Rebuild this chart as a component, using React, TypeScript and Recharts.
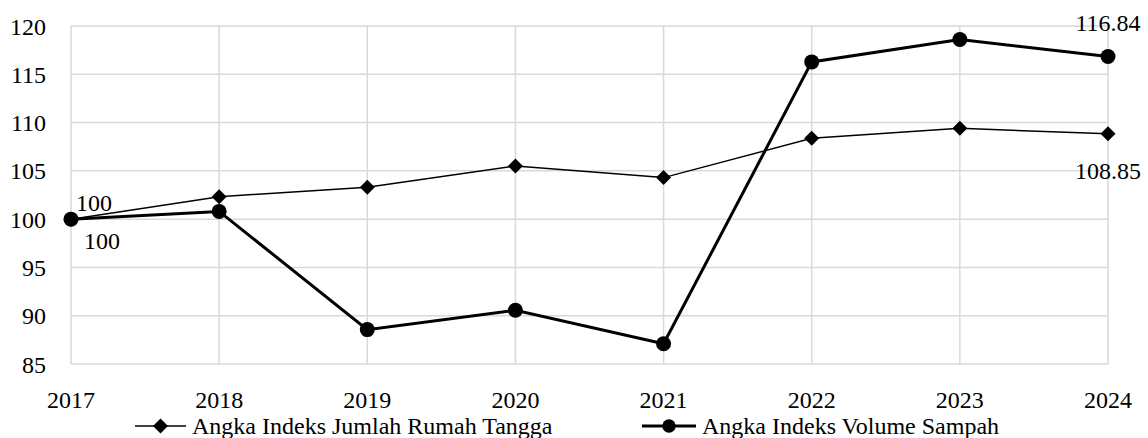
import { LineChart, Line, XAxis, YAxis, CartesianGrid, Legend } from "recharts";

const years = ["2017", "2018", "2019", "2020", "2021", "2022", "2023", "2024"];
const rumahTangga = [100, 102.33, 103.3, 105.5, 104.3, 108.37, 109.4, 108.85];
const volumeSampah = [100, 100.8, 88.56, 90.56, 87.09, 116.28, 118.6, 116.84];
const yTicks = [85, 90, 95, 100, 105, 110, 115, 120];

const data = years.map((year, i) => ({
  year,
  rumahTangga: rumahTangga[i],
  volumeSampah: volumeSampah[i],
}));

const FONT = "'Liberation Serif', 'Times New Roman', serif";
const FONT_SIZE = 24;

const Diamond = ({ cx, cy, size = 7.5 }: any) => {
  if (cx == null || cy == null) return null;
  return (
    <path
      d={`M${cx},${cy - size} L${cx + size},${cy} L${cx},${cy + size} L${cx - size},${cy} Z`}
      fill="#000"
    />
  );
};

const Dot = ({ cx, cy }: any) => {
  if (cx == null || cy == null) return null;
  return <circle cx={cx} cy={cy} r={7.5} fill="#000" />;
};

const labelText = (x: number, y: number, text: any, anchor: string) => (
  <text x={x} y={y} textAnchor={anchor} fontFamily={FONT} fontSize={FONT_SIZE} fill="#000">
    {text}
  </text>
);

// first point: right of marker, last point: above/below
const rumahLabel = (props: any) => {
  const { x, y, value, index } = props;
  if (index === 0) return labelText(x + 5, y - 8, value, "start");
  if (index === years.length - 1) return labelText(x, y + 45, value.toFixed(2), "middle");
  return null;
};

const sampahLabel = (props: any) => {
  const { x, y, value, index } = props;
  if (index === 0) return labelText(x + 13, y + 30, value, "start");
  if (index === years.length - 1) return labelText(x, y - 26, value.toFixed(2), "middle");
  return null;
};

const LegendContent = () => (
  <div style={{ position: "relative", height: 26, fontFamily: FONT, fontSize: FONT_SIZE }}>
    <div style={{ position: "absolute", left: 135, top: 0, display: "flex", alignItems: "center" }}>
      <svg width={51} height={26}>
        <line x1={0} y1={14} x2={51} y2={14} stroke="#000" strokeWidth={1.5} />
        <Diamond cx={25.5} cy={14} size={7.5} />
      </svg>
      <span style={{ marginLeft: 6, lineHeight: "26px", position: "relative", top: 1 }}>
        Angka Indeks Jumlah Rumah Tangga
      </span>
    </div>
    <div style={{ position: "absolute", left: 642, top: 0, display: "flex", alignItems: "center" }}>
      <svg width={54} height={26}>
        <line x1={0} y1={14} x2={54} y2={14} stroke="#000" strokeWidth={3} />
        <circle cx={27} cy={14} r={6.7} fill="#000" />
      </svg>
      <span style={{ marginLeft: 6, lineHeight: "26px", position: "relative", top: 1 }}>
        Angka Indeks Volume Sampah
      </span>
    </div>
  </div>
);

export default function App() {
  return (
    <div style={{ position: "absolute", left: 0, top: 0, width: 1148, height: 438, background: "#fff" }}>
      <LineChart
        width={1148}
        height={438}
        data={data}
        margin={{ top: 26, right: 40, left: 0, bottom: 0 }}
      >
        <CartesianGrid stroke="#d9d9d9" strokeWidth={1.5} />
        <XAxis
          dataKey="year"
          axisLine={false}
          tickLine={false}
          tickSize={0}
          tickMargin={27}
          height={48}
          interval={0}
          tick={{ fontFamily: FONT, fontSize: FONT_SIZE, fill: "#000" }}
        />
        <YAxis
          domain={[85, 120]}
          ticks={yTicks}
          axisLine={false}
          tickLine={false}
          tickSize={0}
          tickMargin={25}
          width={71}
          tick={{ fontFamily: FONT, fontSize: FONT_SIZE, fill: "#000" }}
        />
        <Legend verticalAlign="bottom" content={<LegendContent />} />
        <Line
          dataKey="rumahTangga"
          name="Angka Indeks Jumlah Rumah Tangga"
          stroke="#000"
          strokeWidth={1.5}
          dot={<Diamond />}
          activeDot={false}
          label={rumahLabel}
          isAnimationActive={false}
        />
        <Line
          dataKey="volumeSampah"
          name="Angka Indeks Volume Sampah"
          stroke="#000"
          strokeWidth={3}
          dot={<Dot />}
          activeDot={false}
          label={sampahLabel}
          isAnimationActive={false}
        />
      </LineChart>
    </div>
  );
}
